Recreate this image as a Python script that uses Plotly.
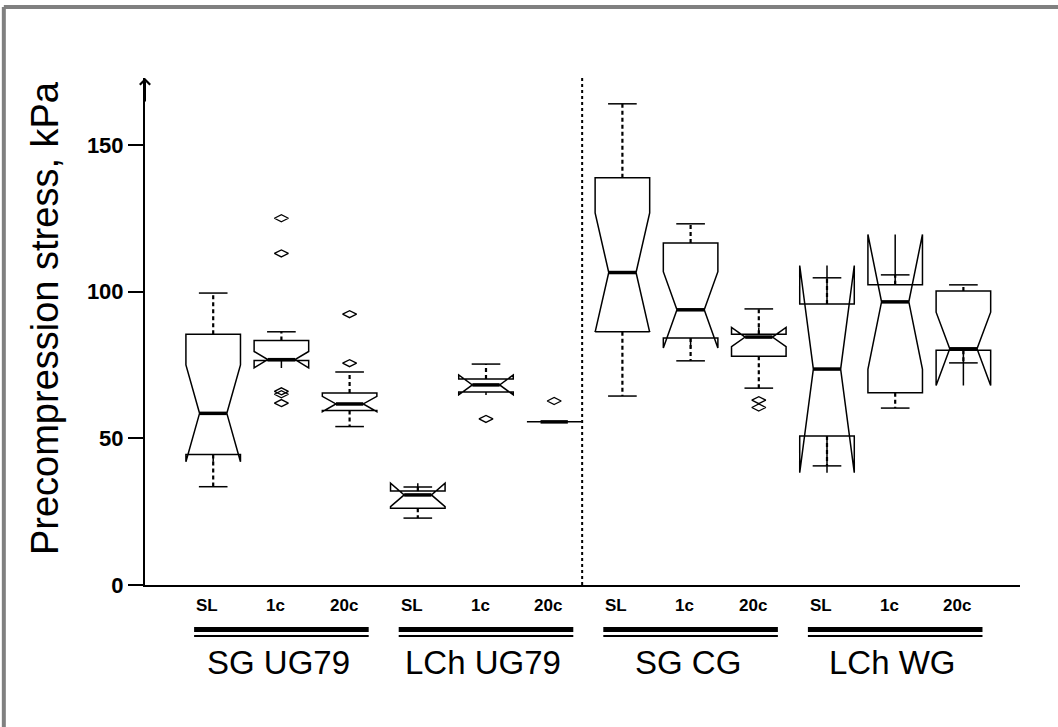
import plotly.graph_objects as go

# Soil groups and loading conditions
groups = ["SG UG79", "LCh UG79", "SG CG", "LCh WG"]
conditions = ["SL", "1c", "20c"]
positions = list(range(1, 13))

# Box statistics (kPa), one entry per group/condition
lower_whisker = [33.5, 76.5, 54.0, 22.8, 65.8, 55.6, 64.4, 76.4, 67.1, 40.6, 60.3, 75.7]
q1 = [44.5, 76.5, 59.5, 26.2, 65.8, 55.6, 86.3, 84.2, 78.0, 50.8, 65.5, 80.0]
median = [58.5, 76.8, 61.7, 30.7, 68.2, 55.6, 106.5, 93.8, 84.5, 73.6, 96.5, 80.5]
q3 = [85.5, 83.3, 65.4, 32.0, 70.2, 55.6, 138.8, 116.6, 85.5, 95.8, 102.3, 100.2]
upper_whisker = [99.5, 86.3, 72.6, 33.4, 75.3, 55.6, 164.0, 123.1, 94.1, 104.7, 105.7, 102.3]
notch_half = [16.5, 2.8, 2.6, 4.0, 3.4, 0.0, 20.3, 13.0, 3.3, 35.3, 23.0, 12.5]

# Outliers: box position and value
outlier_box = [2, 2, 2, 2, 2, 3, 3, 5, 6, 9, 9]
outlier_val = [125, 113, 66, 65, 62, 92.3, 75.6, 56.6, 62.7, 63.0, 60.5]

y_ticks = [0, 50, 100, 150]

XR = [0, 12.83]
YR = [0, 172.8]
BOX_W = 0.8
CAP_HALF = 0.21
MED_HALF = 0.2
FONT = "Arial, Liberation Sans, sans-serif"


def xp(v):
    return (v - XR[0]) / (XR[1] - XR[0])


fig = go.Figure()

# Notched boxes (whiskers drawn separately as dashed lines)
fig.add_trace(go.Box(
    x=positions, q1=q1, median=median, q3=q3,
    lowerfence=q1, upperfence=q3, notchspan=notch_half,
    notched=True, notchwidth=0.25, width=BOX_W, whiskerwidth=0,
    boxpoints=False, fillcolor="rgba(0,0,0,0)",
    line=dict(color="black", width=1.5), showlegend=False, hoverinfo="skip",
))

# Dashed whiskers and solid caps
wx, wy, cx, cy = [], [], [], []
for p, lo, a, b, hi in zip(positions, lower_whisker, q1, q3, upper_whisker):
    if lo < a:
        wx += [p, p, None]; wy += [a, lo, None]
        cx += [p - CAP_HALF, p + CAP_HALF, None]; cy += [lo, lo, None]
    if hi > b:
        wx += [p, p, None]; wy += [b, hi, None]
        cx += [p - CAP_HALF, p + CAP_HALF, None]; cy += [hi, hi, None]
fig.add_trace(go.Scatter(x=wx, y=wy, mode="lines", showlegend=False, hoverinfo="skip",
                         line=dict(color="black", width=2.2, dash="4px,3px")))
fig.add_trace(go.Scatter(x=cx, y=cy, mode="lines", showlegend=False, hoverinfo="skip",
                         line=dict(color="black", width=1.5)))

# Thick median bars
mx, my = [], []
for p, m in zip(positions, median):
    mx += [p - MED_HALF, p + MED_HALF, None]; my += [m, m, None]
fig.add_trace(go.Scatter(x=mx, y=my, mode="lines", showlegend=False, hoverinfo="skip",
                         line=dict(color="black", width=3.5)))

# Outliers
fig.add_trace(go.Scatter(x=outlier_box, y=outlier_val, mode="markers", showlegend=False,
                         hoverinfo="skip",
                         marker=dict(symbol="diamond-wide-open", size=10, color="black",
                                     line=dict(width=1.3, color="black"))))

shapes = []
# Separator between the two data sets
shapes.append(dict(type="line", xref="x", yref="y", x0=6.41, x1=6.41, y0=YR[0], y1=YR[1],
                   line=dict(color="black", width=2, dash="dot")))

# Double underline below each group
for g in range(len(groups)):
    mid = positions[3 * g + 1]
    x0, x1 = xp(mid - 1.28), xp(mid + 1.28)
    shapes.append(dict(type="line", xref="paper", yref="paper", x0=x0, x1=x1,
                       y0=-0.0878, y1=-0.0878, line=dict(color="black", width=5)))
    shapes.append(dict(type="line", xref="paper", yref="paper", x0=x0, x1=x1,
                       y0=-0.1006, y1=-0.1006, line=dict(color="black", width=2)))

# Grey frame on the top and left
shapes.append(dict(type="line", xref="paper", yref="paper", x0=xp(-2.07), x1=xp(-2.07),
                   y0=-0.3, y1=1.14, line=dict(color="#808080", width=4)))
shapes.append(dict(type="line", xref="paper", yref="paper", x0=xp(-2.07), x1=1.1,
                   y0=1.14, y1=1.14, line=dict(color="#808080", width=4)))

annotations = []
# Condition labels under each box
for i, p in enumerate(positions):
    annotations.append(dict(x=p, xref="x", y=-0.0414, yref="paper", xshift=-6,
                            text=conditions[i % 3], showarrow=False,
                            font=dict(family=FONT, size=17, color="black", weight="bold"),
                            xanchor="center", yanchor="middle"))
# Group labels
for g, name in enumerate(groups):
    annotations.append(dict(x=positions[3 * g + 1], xref="x", y=-0.152, yref="paper", xshift=-3,
                            text=name, showarrow=False,
                            font=dict(family=FONT, size=33, color="black"),
                            xanchor="center", yanchor="middle"))
# Y-axis title
annotations.append(dict(x=-0.114, xref="paper", y=0.527, yref="paper",
                        text="Precompression stress, kPa", textangle=-90, showarrow=False,
                        font=dict(family=FONT, size=38, color="black"),
                        xanchor="center", yanchor="middle"))
# Arrow head on the value axis
annotations.append(dict(x=0, xref="x", y=YR[1], yref="y", ax=0, ay=25, text="",
                        showarrow=True, arrowhead=4, arrowsize=1, arrowwidth=2,
                        arrowcolor="black"))

fig.update_layout(
    width=1058, height=727,
    margin=dict(l=145, r=38, t=78, b=142),
    paper_bgcolor="white", plot_bgcolor="white",
    shapes=shapes, annotations=annotations,
    xaxis=dict(range=XR, showline=True, linecolor="black", linewidth=2, showgrid=False,
               zeroline=False, showticklabels=False, ticks=""),
    yaxis=dict(range=YR, showline=True, linecolor="black", linewidth=2, showgrid=False,
               zeroline=False, tickvals=y_ticks, ticks="outside", ticklen=15, tickwidth=2,
               tickcolor="black",
               tickfont=dict(family=FONT, size=22, color="black", weight="bold")),
)

fig.write_html("out.html")
